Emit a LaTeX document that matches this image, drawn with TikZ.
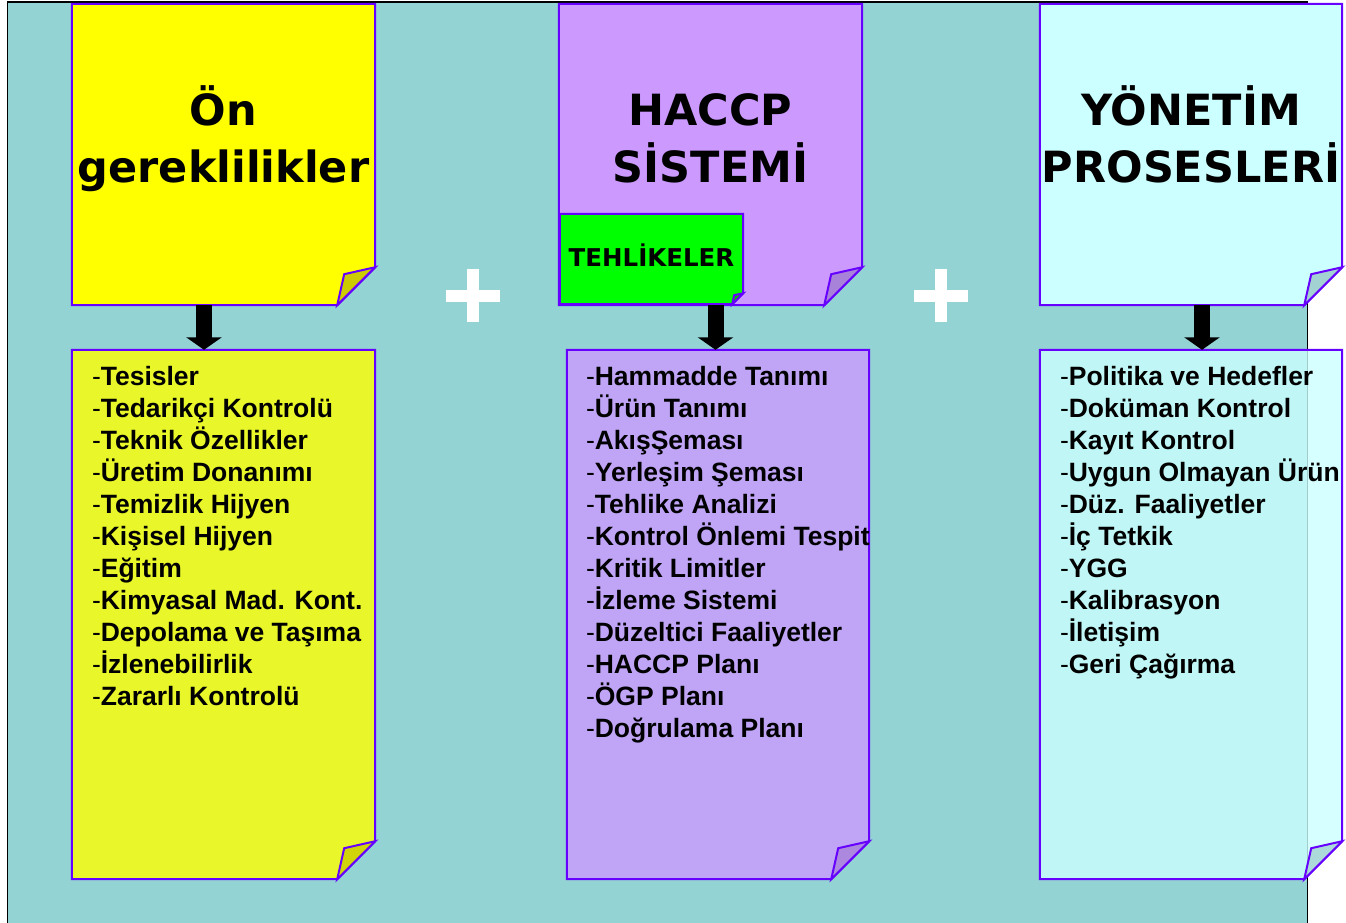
\documentclass[tikz,border=0pt]{standalone}
\usepackage{fontspec}
\setmainfont{Liberation Sans}
\newfontfamily\verdana{DejaVu Sans}
\usetikzlibrary{arrows.meta}

\definecolor{sea}{HTML}{93D3D3}
\definecolor{edge}{HTML}{6600FF}
\definecolor{lemon}{HTML}{FFFF00}
\definecolor{lemonflap}{HTML}{CCCC00}
\definecolor{lilac}{HTML}{CC99FF}
\definecolor{lilacflap}{HTML}{A882D8}
\definecolor{ice}{HTML}{CCFFFF}
\definecolor{iceflap}{HTML}{A3D2D2}
\definecolor{leaf}{HTML}{00FF00}
\definecolor{leafflap}{HTML}{00C000}

\tikzset{
  box/.style={inner sep=0pt, minimum width=303pt},
  paper/.style={draw=edge, line width=2pt, line join=miter},
  title/.style={font=\verdana\bfseries\fontsize{43}{57}\selectfont, align=center, inner sep=0pt, anchor=base},
  items/.style={font=\bfseries\fontsize{26.5}{32}\selectfont, align=left, inner sep=0pt, anchor=north west},
  down/.style={line width=16pt, -{Triangle[width=35pt,length=12.5pt]}},
}

% sheet with a turned-up corner: [opts]{node}{fill}{flap fill}{cut}{flap tip}
\newcommand{\notepaper}[6][]{%
  \filldraw[paper, fill=#3, #1] (#2.north west) -- (#2.north east) -- ([yshift=#5]#2.south east)
    -- ([xshift=-#5]#2.south east) -- (#2.south west) -- cycle;
  \filldraw[paper, fill=#4, #1] ([yshift=#5]#2.south east) -- ([xshift=-#6,yshift=#6]#2.south east)
    -- ([xshift=-#5]#2.south east) -- cycle;}
\newcommand{\itemdash}{{\mdseries-}}

\begin{document}
\begin{tikzpicture}[x=1pt, y=-1pt, node distance=487pt]
\useasboundingbox (0,0) rectangle (1346,922);
\fill[sea] (7.5,2) rectangle (1307.5,930);
\draw[line width=1.5pt] (7.5,930) -- (7.5,2) -- (1307.5,2) -- (1307.5,930);

% the three headings
\node[box, minimum height=301pt] (on) at (223.5,154.5) {};
\node[box, minimum height=301pt, right of=on] (haccp) {};
\node[box, minimum height=301pt, minimum width=302pt, right of=haccp, node distance=480.5pt] (yonetim) {};
\notepaper{on}{lemon}{lemonflap}{38pt}{31pt}
\notepaper{haccp}{lilac}{lilacflap}{38pt}{31pt}
\notepaper{yonetim}{ice}{iceflap}{38pt}{31pt}

\node[box, minimum width=183pt, minimum height=90pt] (tehlike) at (651.5,259) {};
\notepaper{tehlike}{leaf}{leafflap}{11pt}{9pt}

% base of a two-line title is its lower line
\node[title] (ontitle) at ([yshift=-179pt]on.north) {Ön\\gereklilikler};
\node[title] (haccptitle) at ([yshift=-179pt]haccp.north) {HACCP\\SİSTEMİ};
\node[title] (yonetimtitle) at ([yshift=-179pt]yonetim.north) {YÖNETİM\\PROSESLERİ};
\node[font=\verdana\bfseries\fontsize{24.5}{30}\selectfont, inner sep=0pt] (tehliketext) at ([yshift=4pt]tehlike.center) {TEHLİKELER};

% the lists under them
\node[box, minimum height=529pt, below of=on, node distance=460pt] (onlist) {};
\node[box, minimum height=529pt, minimum width=302pt, below of=haccp, node distance=460pt, xshift=7.5pt] (haccplist) {};
\node[box, minimum height=529pt, minimum width=302pt, below of=yonetim, node distance=460pt] (yonetimlist) {};
\notepaper[fill opacity=0.8]{onlist}{lemon}{lemonflap}{38pt}{31pt}
\notepaper[fill opacity=0.8]{haccplist}{lilac}{lilacflap}{38pt}{31pt}
\notepaper[fill opacity=0.8]{yonetimlist}{ice}{iceflap}{38pt}{31pt}

\node[items] (onitems) at ([xshift=20pt,yshift=-16.7pt]onlist.north west) {%
  \itemdash Tesisler\\ \itemdash Tedarikçi Kontrolü\\ \itemdash Teknik Özellikler\\
  \itemdash Üretim Donanımı\\ \itemdash Temizlik Hijyen\\ \itemdash Kişisel Hijyen\\
  \itemdash Eğitim\\ \itemdash Kimyasal Mad. Kont.\\ \itemdash Depolama ve Taşıma\\
  \itemdash İzlenebilirlik\\ \itemdash Zararlı Kontrolü};
\node[items] (haccpitems) at ([xshift=19pt,yshift=-16.7pt]haccplist.north west) {%
  \itemdash Hammadde Tanımı\\ \itemdash Ürün Tanımı\\ \itemdash AkışŞeması\\
  \itemdash Yerleşim Şeması\\ \itemdash Tehlike Analizi\\ \itemdash Kontrol Önlemi Tespit\\
  \itemdash Kritik Limitler\\ \itemdash İzleme Sistemi\\ \itemdash Düzeltici Faaliyetler\\
  \itemdash HACCP Planı\\ \itemdash ÖGP Planı\\ \itemdash Doğrulama Planı};
\node[items] (yonetimitems) at ([xshift=20pt,yshift=-16.7pt]yonetimlist.north west) {%
  \itemdash Politika ve Hedefler\\ \itemdash Doküman Kontrol\\ \itemdash Kayıt Kontrol\\
  \itemdash Uygun Olmayan Ürün\\ \itemdash Düz. Faaliyetler\\ \itemdash İç Tetkik\\
  \itemdash YGG\\ \itemdash Kalibrasyon\\ \itemdash İletişim\\ \itemdash Geri Çağırma};

\draw[down] ([xshift=-19.5pt]on.south) -- ([xshift=-19.5pt]onlist.north);
\draw[down] ([xshift=5pt]haccp.south) -- ([xshift=-2.5pt]haccplist.north);
\draw[down] ([xshift=11pt]yonetim.south) -- ([xshift=11pt]yonetimlist.north);

% plus signs between the columns
\foreach \px in {473,941} {
  \fill[white] (\px-27,290) rectangle (\px+27,301.5);
  \fill[white] (\px-6,269) rectangle (\px+6,322);
}
\end{tikzpicture}
\end{document}
